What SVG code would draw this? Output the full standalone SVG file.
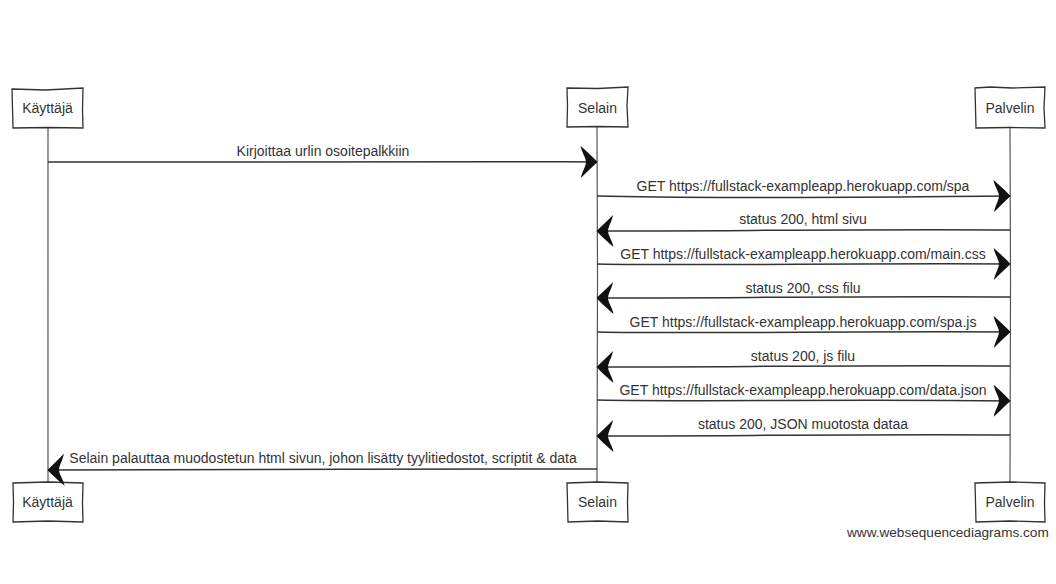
<svg xmlns="http://www.w3.org/2000/svg" width="1056" height="584" viewBox="0 0 1056 584">
  <style>
    .box { fill: #ffffff; stroke: #333333; stroke-width: 1.3; }
    .life { fill: none; stroke: #555555; stroke-width: 1.2; }
    .msg { fill: none; stroke: #333333; stroke-width: 1.5; }
    .lbl { font-family: "Liberation Sans", Arial, sans-serif; font-size: 14px; fill: #333333; text-anchor: middle; }
    .mark { font-family: "Liberation Sans", Arial, sans-serif; font-size: 13.6px; fill: #333333; }
  </style>
  <defs>
    <!-- filled, swept-back arrowhead; tip sits at the path end -->
    <marker id="head" markerUnits="userSpaceOnUse" markerWidth="20" markerHeight="34" viewBox="0 0 20 34" refX="18" refY="17" orient="auto">
      <path d="M18.5,17 C13,11 6,5 1.5,1 C3,8 7,13 7,17 C7,21 3,27 2,33 C7,28 13,22 18.5,17 Z" fill="#111111"/>
    </marker>
  </defs>

  <rect width="1056" height="584" fill="#ffffff"/>

  <!-- lifelines -->
  <g id="lifelines">
    <path class="life" d="M48,128 C48.5,220 47.5,380 48,482"/>
    <path class="life" d="M597,127 C597.5,240 598,380 597,482"/>
    <path class="life" d="M1010,128 C1010.5,240 1011,380 1010,482"/>
  </g>

  <!-- participant boxes, top -->
  <g id="kayttaja-top">
    <path class="box" d="M12,89 L46,90 L83,88 L82.5,110 L83,128 L48,127.5 L13,128 L12.5,108 Z"/>
    <text class="lbl" x="47.5" y="113">Käyttäjä</text>
  </g>
  <g id="selain-top">
    <path class="box" d="M567,88 L598,88.5 L628,87 L627,106 L628,127 L598,126.5 L567,127 L567.5,106 Z"/>
    <text class="lbl" x="597.5" y="113">Selain</text>
  </g>
  <g id="palvelin-top">
    <path class="box" d="M975,88 L990,87 L1012,88 L1045,87 L1044,108 L1045,128 L1010,127.5 L976,128 L975.5,108 Z"/>
    <text class="lbl" x="1010" y="113">Palvelin</text>
  </g>

  <!-- participant boxes, bottom -->
  <g id="kayttaja-bottom">
    <path class="box" d="M13,483 L48,482 L83,483 L82.5,502 L83,522 L48,521 L13,522 L13.5,502 Z"/>
    <text class="lbl" x="47.5" y="507">Käyttäjä</text>
  </g>
  <g id="selain-bottom">
    <path class="box" d="M567,483 L598,482 L628,483 L627.5,502 L628,522 L598,521 L568,522 L567.5,502 Z"/>
    <text class="lbl" x="597.5" y="507">Selain</text>
  </g>
  <g id="palvelin-bottom">
    <path class="box" d="M975,483 L1010,482 L1045,483 L1044.5,502 L1045,522 L1010,521 L976,522 L975.5,502 Z"/>
    <text class="lbl" x="1010" y="507">Palvelin</text>
  </g>

  <!-- messages -->
  <g id="connectors">
    <path class="msg" marker-end="url(#head)" d="M48,162 C200,160.5 400,161 597,162"/>
    <path class="msg" marker-end="url(#head)" d="M597,196 C700,199 850,197 1010,196"/>
    <path class="msg" marker-end="url(#head)" d="M1010,230 C880,229 720,231 597,231"/>
    <path class="msg" marker-end="url(#head)" d="M597,264 C700,266 850,263 1010,264"/>
    <path class="msg" marker-end="url(#head)" d="M1010,297 C880,296 720,298 597,298"/>
    <path class="msg" marker-end="url(#head)" d="M597,332 C700,334 850,331 1010,332"/>
    <path class="msg" marker-end="url(#head)" d="M1010,366 C880,365 720,367 597,367"/>
    <path class="msg" marker-end="url(#head)" d="M597,400 C700,402 850,399 1010,401"/>
    <path class="msg" marker-end="url(#head)" d="M1010,435 C880,434 720,436 597,436"/>
    <path class="msg" marker-end="url(#head)" d="M597,469 C420,470 220,468.5 48,470"/>
  </g>

  <!-- message labels -->
  <g id="labels">
    <text class="lbl" x="323" y="156">Kirjoittaa urlin osoitepalkkiin</text>
    <text class="lbl" x="803" y="191">GET https://fullstack-exampleapp.herokuapp.com/spa</text>
    <text class="lbl" x="803" y="224">status 200, html sivu</text>
    <text class="lbl" x="803" y="259">GET https://fullstack-exampleapp.herokuapp.com/main.css</text>
    <text class="lbl" x="803" y="293">status 200, css filu</text>
    <text class="lbl" x="803" y="327">GET https://fullstack-exampleapp.herokuapp.com/spa.js</text>
    <text class="lbl" x="803" y="361">status 200, js filu</text>
    <text class="lbl" x="803" y="395">GET https://fullstack-exampleapp.herokuapp.com/data.json</text>
    <text class="lbl" x="803" y="429">status 200, JSON muotosta dataa</text>
    <text class="lbl" x="323" y="463">Selain palauttaa muodostetun html sivun, johon lisätty tyylitiedostot, scriptit &amp; data</text>
  </g>

  <text class="mark" x="847" y="537">www.websequencediagrams.com</text>
</svg>
